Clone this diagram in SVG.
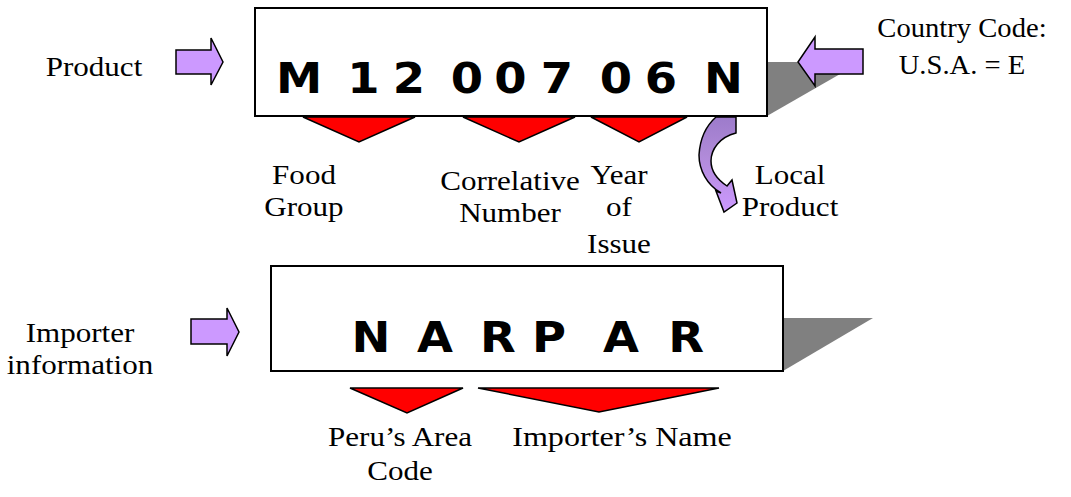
<svg xmlns="http://www.w3.org/2000/svg" width="1071" height="497" viewBox="0 0 1071 497">
<defs>
<style>
.lbl{font-family:"Liberation Serif","Times New Roman",serif;font-size:27px;fill:#000;text-anchor:middle}
.code{font-family:"DejaVu Sans",Verdana,sans-serif;font-weight:bold;font-size:43px;fill:#000;text-anchor:middle}
.box{fill:#fff;stroke:#000;stroke-width:2}
.shadow{fill:#808080;stroke:none}
.tri{fill:#ff0000;stroke:#000;stroke-width:1.5;stroke-linejoin:miter}
.arr{fill:#cc99ff;stroke:#000;stroke-width:1.5}
</style>
<linearGradient id="curveGrad" x1="0" y1="0" x2="0" y2="1">
<stop offset="0" stop-color="#9d7bcb"/>
<stop offset="0.4" stop-color="#b08ad8"/>
<stop offset="1" stop-color="#cc99ff"/>
</linearGradient>
</defs>
<rect width="1071" height="497" fill="#fff"/>

<g id="product-code">
<polygon class="shadow" points="767,62 861,62 767,116"/>
<rect class="box" x="255" y="8" width="512" height="108"/>
<text class="code" transform="scale(1.08,1)" y="93" x="276.9 306 336.6 358 378.7 405 432.4 453 472.7 496 515.7 540 570.4 591 612 640 669.9">M 1 2 0 0 7 0 6 N</text>
</g>

<g id="importer-code">
<polygon class="shadow" points="783,318 873,318 783,371"/>
<rect class="box" x="271" y="266" width="512" height="105"/>
<text class="code" transform="scale(1.08,1)" y="352" x="343.5 373 402.8 432 461.1 485 508.3 541 575 606 635.2">N A R P A R</text>
</g>

<g id="connectors">
<polygon class="arr" points="176,50 211,50 211,38 223,62 211,85 211,74 176,74"/>
<polygon class="arr" points="798,62 815,37 815,49 863,49 863,74 815,74 815,86"/>
<polygon class="arr" points="191,319 227,319 227,308 239,332 227,356 227,344 191,344"/>
<path fill="url(#curveGrad)" stroke="#000" stroke-width="1.5" stroke-linejoin="miter" d="M716,117 L736,117 L736,133 C720,137 711,149 711,161 C711,172 718,180 727,186 L732,180 L737,203 L724,212 L716,191 L721,193 C707,185 699,170 699,155 C700,138 707,125 716,117 Z"/>
</g>

<g id="markers">
<polygon class="tri" points="303,117 415,117 359,142"/>
<polygon class="tri" points="463,117 575,117 519,142"/>
<polygon class="tri" points="591,117 687,117 639,142"/>
<polygon class="tri" points="350,388 463,388 407,413"/>
<polygon class="tri" points="478,388 719,388 599,412"/>
</g>

<g id="label-product"><text class="lbl" transform="translate(94,76) scale(1.15,1)">Product</text></g>
<g id="label-country"><text class="lbl" transform="translate(962,37) scale(1.06,1)">Country Code:<tspan x="0" dy="37">U.S.A. = E</tspan></text></g>
<g id="label-food"><text class="lbl" transform="translate(304,184) scale(1.15,1)">Food<tspan x="0" dy="32">Group</tspan></text></g>
<g id="label-correlative"><text class="lbl" transform="translate(510,190) scale(1.15,1)">Correlative<tspan x="0" dy="32">Number</tspan></text></g>
<g id="label-year"><text class="lbl" transform="translate(619,184) scale(1.15,1)">Year<tspan x="0" dy="32">of</tspan><tspan x="0" dy="37">Issue</tspan></text></g>
<g id="label-local"><text class="lbl" transform="translate(790,184) scale(1.15,1)">Local<tspan x="0" dy="32">Product</tspan></text></g>
<g id="label-importer"><text class="lbl" transform="translate(80,342) scale(1.15,1)">Importer<tspan x="0" dy="32">information</tspan></text></g>
<g id="label-peru"><text class="lbl" transform="translate(400,446) scale(1.15,1)">Peru’s Area<tspan x="0" dy="34">Code</tspan></text></g>
<g id="label-name"><text class="lbl" transform="translate(622,446) scale(1.19,1)">Importer’s Name</text></g>
</svg>
